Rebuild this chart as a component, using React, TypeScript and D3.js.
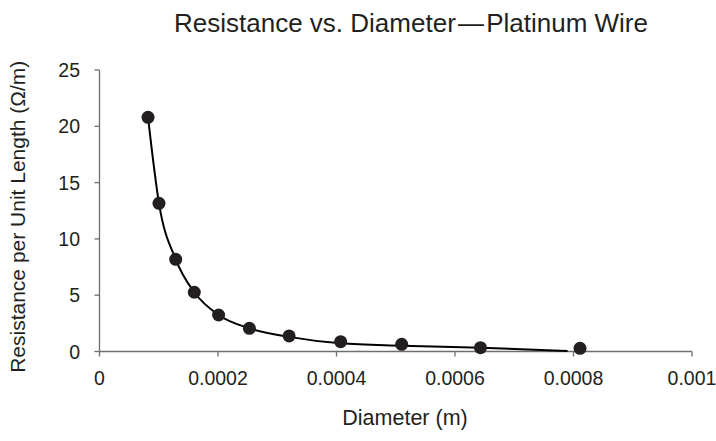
import React from "react";
import * as d3 from "d3";

const diameters = [0.0000819, 0.0001004, 0.0001286, 0.00016, 0.000201, 0.000253, 0.00032, 0.000407, 0.00051, 0.000643, 0.000811];
const resistances = [20.8, 13.16, 8.19, 5.26, 3.24, 2.06, 1.38, 0.87, 0.64, 0.34, 0.28];

const curveX = [0.0000819, 0.0001004, 0.0001286, 0.00016, 0.000201, 0.000253, 0.00032, 0.000407, 0.00051, 0.000643, 0.00079];
const curveY = [20.8, 13.16, 8.19, 5.26, 3.24, 2.06, 1.3, 0.73, 0.52, 0.34, 0.05];

const xTicks = [0, 0.0002, 0.0004, 0.0006, 0.0008, 0.001];
const xTickLabels = ["0", "0.0002", "0.0004", "0.0006", "0.0008", "0.001"];
const yTicks = [0, 5, 10, 15, 20, 25];

const W = 716;
const H = 441;
const FONT = "'Liberation Sans', Arial, Helvetica, sans-serif";
const TEXT = "#231f20";
const AXIS = "#6d6e70";

export default function App() {
  const x = d3.scaleLinear().domain([0, 0.001]).range([99.5, 692]);
  const y = d3.scaleLinear().domain([0, 25]).range([351.5, 70]);
  const line = d3
    .line<number>()
    .x((_, i) => x(curveX[i]))
    .y((d) => y(d))
    .curve(d3.curveMonotoneX);

  return (
    <svg width={W} height={H} style={{ position: "absolute", left: 0, top: 0, background: "#fff" }}>
      <text x={411} y={32} textAnchor="middle" fontFamily={FONT} fontSize={26} fill={TEXT}>
        Resistance vs. Diameter{"\u200A—\u200A"}Platinum Wire
      </text>
      {/* axes */}
      <line x1={x(0)} x2={x(0.001)} y1={y(0)} y2={y(0)} stroke={AXIS} strokeWidth={1.3} />
      <line x1={x(0)} x2={x(0)} y1={y(0)} y2={y(25)} stroke={AXIS} strokeWidth={1.3} />
      {xTicks.map((t, i) => (
        <g key={"x" + i}>
          <line x1={x(t)} x2={x(t)} y1={y(0)} y2={y(0) + 5} stroke={AXIS} strokeWidth={1.3} />
          <text x={x(t)} y={384.5} textAnchor="middle" fontFamily={FONT} fontSize={19.5} fill={TEXT}>
            {xTickLabels[i]}
          </text>
        </g>
      ))}
      {yTicks.map((t) => (
        <g key={"y" + t}>
          <line x1={x(0) - 5} x2={x(0)} y1={y(t)} y2={y(t)} stroke={AXIS} strokeWidth={1.3} />
          <text x={80} y={y(t) + 7} textAnchor="end" fontFamily={FONT} fontSize={19.5} fill={TEXT}>
            {t}
          </text>
        </g>
      ))}
      <text x={405} y={425} textAnchor="middle" fontFamily={FONT} fontSize={21.5} fill={TEXT}>
        Diameter (m)
      </text>
      <text
        transform={`translate(25,${(y(0) + y(25)) / 2 + 6}) rotate(-90)`}
        textAnchor="middle"
        fontFamily={FONT}
        fontSize={21}
        fill={TEXT}
      >
        Resistance per Unit Length (Ω/m)
      </text>
      <path d={line(curveY) || ""} fill="none" stroke="#000" strokeWidth={2} />
      {diameters.map((d, i) => (
        <circle key={i} cx={x(d)} cy={y(resistances[i])} r={6.5} fill="#231f20" />
      ))}
    </svg>
  );
}
